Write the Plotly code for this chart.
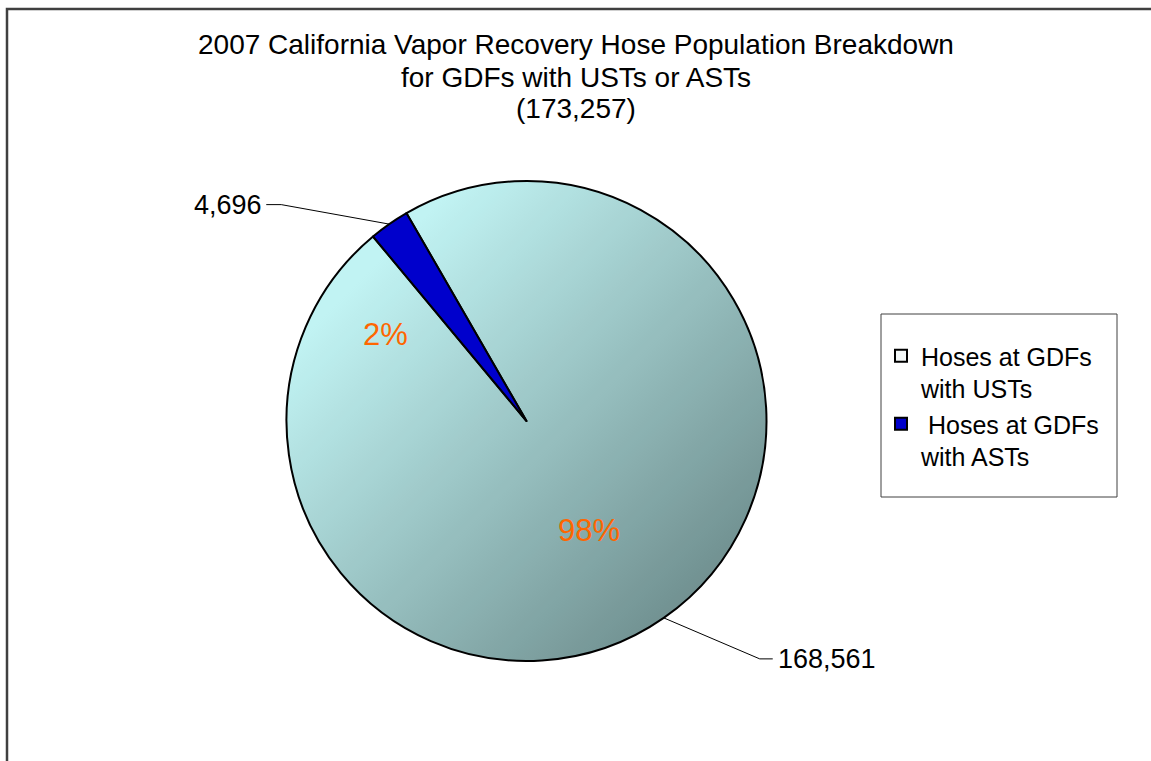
import base64
import math
import plotly.graph_objects as go

# ---- data ----
labels = ["Hoses at GDFs<br>with USTs", "\u00a0Hoses at GDFs<br>with ASTs"]
values = [168561, 4696]
pct_labels = ["98%", "2%"]
title_lines = [
    "2007 California Vapor Recovery Hose Population Breakdown",
    "for GDFs with USTs or ASTs",
    "(173,257)",
]

# ---- geometry / style ----
W, H = 1151, 761
CX, CY, R = 526.5, 421.0, 240.0
ROT = -30.0
FONT = "Liberation Sans, Arial, sans-serif"

dom_x = [(CX - R) / W, (CX + R) / W]
dom_y = [1 - (CY + R) / H, 1 - (CY - R) / H]


def px(x, y):
    return x / W, 1 - y / H


# gradient fill for the large slice (image under a transparent slice)
svg = (
    '<svg xmlns="http://www.w3.org/2000/svg" width="480" height="480" viewBox="0 0 480 480">'
    '<defs><linearGradient id="g" x1="0" y1="0" x2="1" y2="1">'
    '<stop offset="0" stop-color="#C8FAFA"/>'
    '<stop offset="0.18" stop-color="#C8FAFA"/>'
    '<stop offset="1" stop-color="#5F7979"/>'
    '</linearGradient></defs>'
    '<circle cx="240" cy="240" r="240" fill="url(#g)"/></svg>'
)
src = "data:image/svg+xml;base64," + base64.b64encode(svg.encode()).decode()

fig = go.Figure()
fig.add_trace(
    go.Pie(
        labels=labels,
        values=values,
        sort=False,
        direction="clockwise",
        rotation=ROT,
        textinfo="none",
        hoverinfo="label+value+percent",
        marker=dict(
            colors=["rgba(120,170,170,0.08)", "#0000CC"],
            line=dict(color="#000000", width=2),
        ),
        domain=dict(x=dom_x, y=dom_y),
    )
)

annotations = []
shapes = []

# title lines
title_y = [45, 77, 108]
for t, yy in zip(title_lines, title_y):
    annotations.append(
        dict(
            text=t, x=0.5, y=1 - yy / H, xref="paper", yref="paper",
            xanchor="center", yanchor="middle", showarrow=False,
            font=dict(family=FONT, size=28, color="#000000"),
        )
    )

# value labels with leader lines (computed from slice angles)
total = sum(values)
cum = 0.0
elbow_off = [(96, 41, 13), (-108, -19.5, -15)]
pct_pos = [(589.5, 530), (385.5, 335)]
for i, v in enumerate(values):
    mid = math.radians(ROT + (cum + v / 2) / total * 360)
    cum += v
    ex = CX + R * math.sin(mid)
    ey = CY - R * math.cos(mid)
    dx, dy, hx = elbow_off[i]
    bx, by = ex + dx, ey + dy
    tx, ty = bx + hx, by
    p0, p1, p2 = px(ex, ey), px(bx, by), px(tx, ty)
    shapes.append(
        dict(
            type="path", xref="paper", yref="paper",
            path=f"M {p0[0]},{p0[1]} L {p1[0]},{p1[1]} L {p2[0]},{p2[1]}",
            line=dict(color="#000000", width=1),
        )
    )
    lx, ly = px(tx + (3 if hx > 0 else -2), ty)
    annotations.append(
        dict(
            text=f"{v:,}", x=lx, y=ly, xref="paper", yref="paper",
            xanchor="left" if hx > 0 else "right", yanchor="middle",
            showarrow=False, font=dict(family=FONT, size=27, color="#000000"),
        )
    )
    qx, qy = px(*pct_pos[i])
    annotations.append(
        dict(
            text=pct_labels[i], x=qx, y=qy, xref="paper", yref="paper",
            xanchor="center", yanchor="middle", showarrow=False,
            font=dict(family=FONT, size=31, color="#FF6600"),
        )
    )

# outer chart border
shapes.append(
    dict(
        type="rect", xref="paper", yref="paper",
        x0=7 / W, y0=-0.05, x1=1.05, y1=1 - 9 / H,
        line=dict(color="#404040", width=2.5), fillcolor="rgba(0,0,0,0)",
    )
)
# legend frame
shapes.append(
    dict(
        type="rect", xref="paper", yref="paper",
        x0=881 / W, y0=1 - 497 / H, x1=1117 / W, y1=1 - 314 / H,
        line=dict(color="#404040", width=1), fillcolor="rgba(0,0,0,0)",
    )
)

fig.update_layout(
    width=W, height=H, autosize=False,
    margin=dict(l=0, r=0, t=0, b=0),
    paper_bgcolor="#FFFFFF", plot_bgcolor="#FFFFFF",
    showlegend=True,
    legend=dict(
        x=881 / W, y=1 - 333 / H, xanchor="left", yanchor="top",
        bgcolor="rgba(255,255,255,0)", borderwidth=0,
        font=dict(family=FONT, size=25, color="#000000"),
        valign="top", itemwidth=30,
    ),
    images=[
        dict(
            source=src, xref="paper", yref="paper",
            x=dom_x[0], y=dom_y[1], sizex=dom_x[1] - dom_x[0], sizey=dom_y[1] - dom_y[0],
            xanchor="left", yanchor="top", sizing="stretch", layer="below",
        )
    ],
    annotations=annotations,
    shapes=shapes,
)

fig.write_html("out.html")
